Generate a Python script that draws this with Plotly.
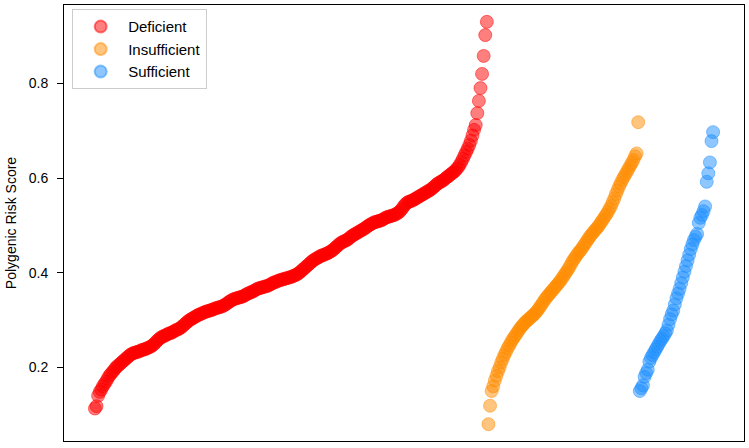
import plotly.graph_objects as go

# Polygenic risk scores, sorted within each vitamin-D status group
deficient = [
    0.113, 0.118, 0.140, 0.148, 0.153, 0.160, 0.165, 0.170, 0.176, 0.182,
    0.186, 0.190, 0.194, 0.199, 0.202, 0.205, 0.208, 0.211, 0.214, 0.217,
    0.220, 0.223, 0.226, 0.228, 0.230, 0.231, 0.232, 0.233, 0.234, 0.236,
    0.237, 0.238, 0.239, 0.241, 0.242, 0.244, 0.246, 0.249, 0.252, 0.256,
    0.259, 0.262, 0.264, 0.266, 0.267, 0.269, 0.271, 0.272, 0.273, 0.275,
    0.277, 0.279, 0.280, 0.282, 0.284, 0.287, 0.290, 0.293, 0.296, 0.299,
    0.301, 0.303, 0.305, 0.307, 0.309, 0.311, 0.312, 0.314, 0.315, 0.317,
    0.318, 0.319, 0.320, 0.321, 0.322, 0.324, 0.325, 0.326, 0.327, 0.328,
    0.329, 0.331, 0.333, 0.335, 0.338, 0.340, 0.342, 0.344, 0.345, 0.346,
    0.347, 0.348, 0.349, 0.350, 0.352, 0.354, 0.356, 0.357, 0.359, 0.360,
    0.362, 0.364, 0.366, 0.367, 0.368, 0.369, 0.370, 0.371, 0.372, 0.373,
    0.375, 0.377, 0.379, 0.380, 0.381, 0.383, 0.384, 0.385, 0.386, 0.387,
    0.388, 0.389, 0.390, 0.391, 0.392, 0.394, 0.395, 0.397, 0.399, 0.402,
    0.405, 0.408, 0.411, 0.414, 0.417, 0.420, 0.423, 0.426, 0.428, 0.430,
    0.432, 0.434, 0.436, 0.437, 0.438, 0.440, 0.441, 0.443, 0.445, 0.447,
    0.450, 0.453, 0.456, 0.459, 0.462, 0.464, 0.466, 0.467, 0.469, 0.471,
    0.474, 0.477, 0.479, 0.481, 0.483, 0.485, 0.487, 0.489, 0.491, 0.493,
    0.495, 0.498, 0.500, 0.502, 0.504, 0.506, 0.507, 0.508, 0.509, 0.510,
    0.511, 0.513, 0.515, 0.517, 0.518, 0.519, 0.520, 0.521, 0.522, 0.524,
    0.526, 0.528, 0.532, 0.536, 0.541, 0.545, 0.548, 0.550, 0.551, 0.552,
    0.554, 0.556, 0.558, 0.560, 0.562, 0.564, 0.566, 0.568, 0.570, 0.572,
    0.574, 0.576, 0.579, 0.582, 0.585, 0.588, 0.590, 0.592, 0.594, 0.596,
    0.599, 0.602, 0.604, 0.607, 0.610, 0.612, 0.615, 0.619, 0.623, 0.628,
    0.634, 0.641, 0.648, 0.655, 0.662, 0.670, 0.679, 0.690, 0.702, 0.712,
    0.737, 0.763, 0.790, 0.820, 0.858, 0.902, 0.930,
]

insufficient = [
    0.080, 0.119, 0.150, 0.160, 0.172, 0.182, 0.192, 0.200, 0.210, 0.218,
    0.226, 0.233, 0.240, 0.246, 0.252, 0.258, 0.263, 0.268, 0.273, 0.278,
    0.283, 0.287, 0.291, 0.295, 0.298, 0.301, 0.304, 0.307, 0.310, 0.313,
    0.317, 0.321, 0.326, 0.331, 0.336, 0.341, 0.346, 0.350, 0.354, 0.358,
    0.362, 0.366, 0.370, 0.374, 0.378, 0.382, 0.387, 0.392, 0.397, 0.402,
    0.407, 0.413, 0.419, 0.425, 0.430, 0.435, 0.440, 0.444, 0.448, 0.453,
    0.458, 0.463, 0.468, 0.473, 0.478, 0.482, 0.486, 0.490, 0.494, 0.498,
    0.503, 0.508, 0.513, 0.518, 0.523, 0.529, 0.535, 0.541, 0.549, 0.557,
    0.566, 0.574, 0.582, 0.589, 0.596, 0.602, 0.608, 0.614, 0.620, 0.626,
    0.632, 0.638, 0.646, 0.652, 0.718,
]

sufficient = [
    0.150, 0.156, 0.162, 0.180, 0.188, 0.195, 0.212, 0.220, 0.226, 0.232,
    0.238, 0.244, 0.250, 0.256, 0.261, 0.266, 0.272, 0.278, 0.290, 0.302,
    0.312, 0.320, 0.333, 0.346, 0.356, 0.366, 0.378, 0.390, 0.402, 0.414,
    0.426, 0.438, 0.450, 0.460, 0.469, 0.476, 0.482, 0.505, 0.516, 0.522,
    0.530, 0.540, 0.592, 0.610, 0.633, 0.678, 0.697,
]

groups = ["Deficient", "Insufficient", "Sufficient"]
series = [deficient, insufficient, sufficient]
colors = ["255,0,0", "255,140,0", "30,144,255"]

fig = go.Figure()
start = 0
for name, vals, rgb in zip(groups, series, colors):
    xs = list(range(start, start + len(vals)))
    start += len(vals)
    fig.add_trace(go.Scatter(
        x=xs, y=vals, mode="markers", name=name, legendgroup=name,
        marker=dict(size=13, color=f"rgba({rgb},0.5)",
                    line=dict(width=1, color=f"rgba({rgb},0.5)")),
    ))

n_total = start
pad_x = (n_total - 1) * 0.05

fig.update_layout(
    width=749, height=448,
    margin=dict(l=64, r=5, t=5, b=7),
    paper_bgcolor="white", plot_bgcolor="white",
    font=dict(family="Liberation Sans, Arial, sans-serif", size=14, color="black"),
    showlegend=True,
    legend=dict(
        x=0.012, y=0.99, xanchor="left", yanchor="top",
        bgcolor="rgba(255,255,255,0.8)", bordercolor="#cccccc", borderwidth=1,
        font=dict(size=15), itemsizing="constant", itemwidth=45,
        tracegroupgap=0,
    ),
    xaxis=dict(
        range=[-pad_x, n_total - 1 + pad_x],
        showticklabels=False, ticks="", showgrid=False, zeroline=False,
        showline=True, linecolor="black", linewidth=1, mirror=True,
    ),
    yaxis=dict(
        range=[0.0444, 0.9656],
        tickvals=[0.2, 0.4, 0.6, 0.8], ticktext=["0.2", "0.4", "0.6", "0.8"],
        ticks="outside", ticklen=6, tickcolor="black",
        ticklabelstandoff=6,
        showgrid=False, zeroline=False,
        showline=True, linecolor="black", linewidth=1, mirror=True,
        title=dict(text="Polygenic Risk Score", font=dict(size=14), standoff=8),
        tickfont=dict(size=14),
    ),
)

fig.write_html(
    "out.html",
    config={"displayModeBar": False},
    post_script="document.body.style.margin='0';document.body.style.overflow='hidden';",
)
